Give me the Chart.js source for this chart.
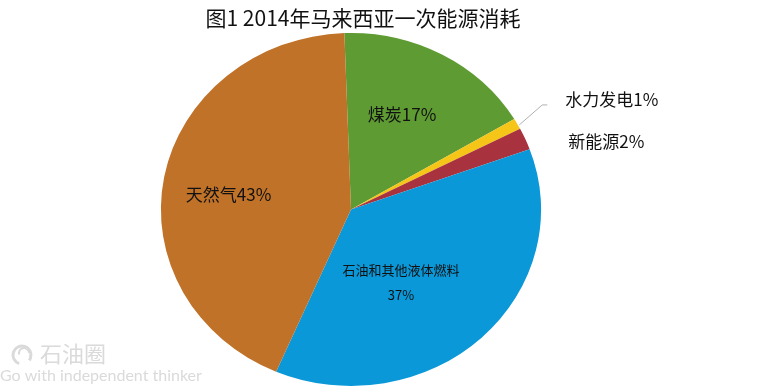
<!DOCTYPE html>
<html>
<head>
<meta charset="utf-8">
<script src="https://cdn.jsdelivr.net/npm/chart.js@4.4.1/dist/chart.umd.min.js"></script>
<style>
  html, body { margin: 0; padding: 0; background: #fff; }
  #wrap { width: 775px; height: 388px; }
</style>
</head>
<body>
<div id="wrap"><canvas id="pieChart" width="775" height="388"></canvas></div>
<script>
const titleText = "图1 2014年马来西亚一次能源消耗";
const categories = ["煤炭", "水力发电", "新能源", "石油和其他液体燃料", "天然气"];
const shares = [17, 1, 2, 37, 43];
const sliceColors = ["#5e9b32", "#f5c518", "#a8323e", "#0a98d8", "#c07229"];

const fontCJK = '"Noto Sans CJK SC", "Noto Sans", sans-serif';
const stretchX = 1.077; // the original pie is a little wider than tall

// how each slice label sits: inside at a fraction of the radius, or outside beside the rim
const labelPlacement = [
  { inside: true, r: 0.6, turn: -2, size: 17 },
  { inside: false, dx: 48, dy: -24, size: 17, leader: true },
  { inside: false, dx: 43, dy: 3, size: 17 },
  { inside: true, r: 0.49, turn: 11, size: 13, wrap: true },
  { inside: true, r: 0.65, turn: -3, size: 17 }
];

const ctx = document.getElementById("pieChart").getContext("2d");

const ellipsePlugin = {
  id: "ellipse",
  beforeDatasetsDraw(chart) {
    const arc = chart.getDatasetMeta(0).data[0];
    const c = chart.ctx;
    c.save();
    c.translate(arc.x, arc.y);
    c.scale(stretchX, 1);
    c.translate(-arc.x, -arc.y);
  },
  afterDatasetsDraw(chart) {
    chart.ctx.restore();
  }
};

const labelPlugin = {
  id: "sliceLabels",
  afterDraw(chart) {
    const c = chart.ctx;
    const arcs = chart.getDatasetMeta(0).data;

    c.save();
    // title
    c.fillStyle = "#111";
    c.font = "21px " + fontCJK;
    c.textAlign = "center";
    c.textBaseline = "middle";
    c.fillText(titleText, 363, 18);

    arcs.forEach((arc, i) => {
      const p = labelPlacement[i];
      const mid = (arc.startAngle + arc.endAngle) / 2;
      c.font = p.size + "px " + fontCJK;
      c.fillStyle = "#111";
      if (p.inside) {
        const a = mid + p.turn * Math.PI / 180;
        const x = arc.x + Math.cos(a) * arc.outerRadius * p.r * stretchX;
        const y = arc.y + Math.sin(a) * arc.outerRadius * p.r;
        c.textAlign = "center";
        if (p.wrap) {
          c.fillText(categories[i], x, y - 12);
          c.fillText(shares[i] + "%", x, y + 13);
        } else {
          c.fillText(categories[i] + shares[i] + "%", x, y);
        }
      } else {
        const ex = arc.x + Math.cos(mid) * arc.outerRadius * stretchX;
        const ey = arc.y + Math.sin(mid) * arc.outerRadius;
        const tx = ex + p.dx;
        const ty = ey + p.dy;
        if (p.leader) {
          c.strokeStyle = "#b0b0b0";
          c.lineWidth = 1;
          c.beginPath();
          c.moveTo(ex + 2, ey + 1);
          c.lineTo(tx - 23, ty + 5);
          c.lineTo(tx - 18, ty + 5);
          c.stroke();
        }
        c.textAlign = "left";
        c.fillText(categories[i] + shares[i] + "%", tx, ty);
      }
    });

    // watermark
    c.strokeStyle = "#dadada";
    c.fillStyle = "#dadada";
    c.lineWidth = 3;
    c.beginPath();
    c.arc(22, 355, 9, Math.PI * 0.6, Math.PI * 2.2);
    c.stroke();
    c.lineWidth = 2;
    c.beginPath();
    c.arc(24, 353, 5, Math.PI * 0.9, Math.PI * 2.0);
    c.stroke();
    c.font = "22px " + fontCJK;
    c.textAlign = "left";
    c.fillText("石油圈", 40, 354);
    c.font = "16px Lato, sans-serif";
    c.fillText("Go with independent thinker", 0, 376);
    c.restore();
  }
};

new Chart(ctx, {
  type: "pie",
  data: {
    labels: categories,
    datasets: [{
      data: shares,
      backgroundColor: sliceColors,
      borderWidth: 0
    }]
  },
  options: {
    responsive: false,
    animation: false,
    rotation: -2,
    layout: {
      padding: { top: 33, bottom: 2, left: 174.5, right: 247.5 }
    },
    plugins: {
      legend: { display: false },
      tooltip: { enabled: false }
    }
  },
  plugins: [ellipsePlugin, labelPlugin]
});
</script>
</body>
</html>
